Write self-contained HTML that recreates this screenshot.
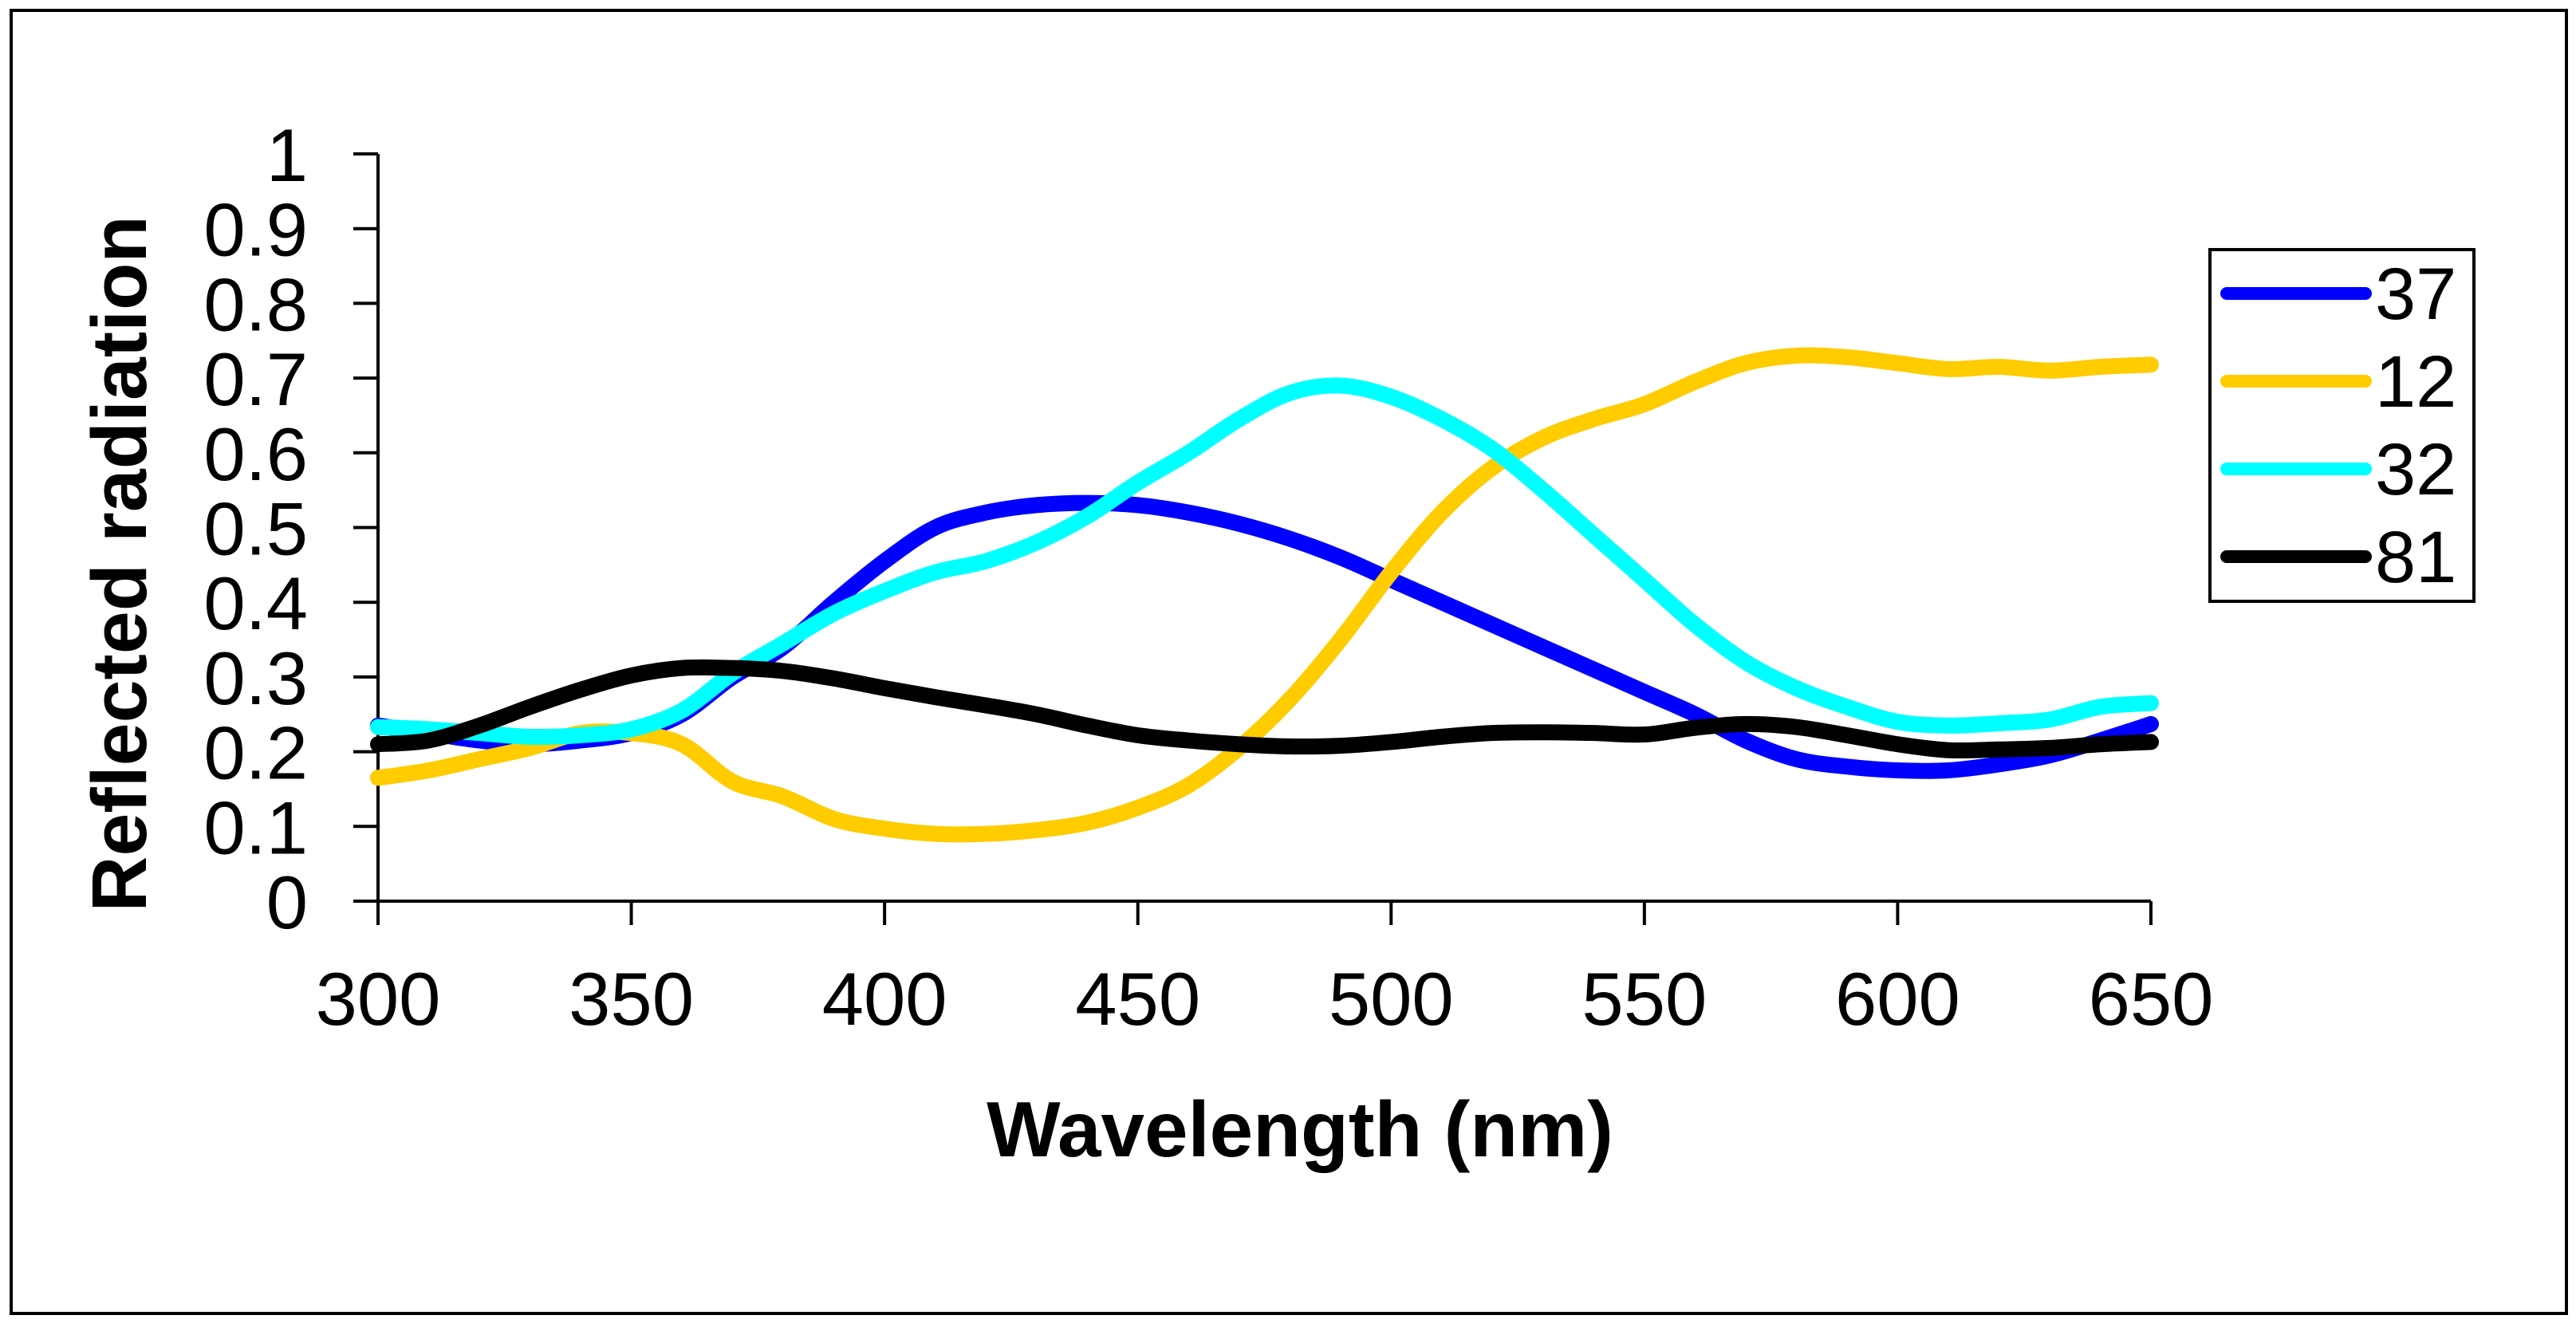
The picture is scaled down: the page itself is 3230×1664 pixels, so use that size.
<!DOCTYPE html>
<html><head><meta charset="utf-8"><style>
html,body{margin:0;padding:0;background:#fff;}
svg{display:block;font-family:"Liberation Sans",Arial,sans-serif;}
</style></head><body>
<svg id="chart" width="3230" height="1664" viewBox="0 0 3230 1664" xmlns="http://www.w3.org/2000/svg">
<rect x="14" y="13" width="3204" height="1634" fill="#fff" stroke="#000" stroke-width="4"/>
<g id="axes"></g>
<g id="series"></g>
<text x="1630" y="1450" font-size="98" font-weight="bold" text-anchor="middle">Wavelength (nm)</text>
<text transform="translate(183,707) rotate(-90)" font-size="97" font-weight="bold" text-anchor="middle">Reflected radiation</text>
<g id="legend">
<rect x="2771" y="313" width="331" height="441" fill="#fff" stroke="#000" stroke-width="4"/>
</g>
</svg>
<script>
const wavelengths = [300,310,320,330,340,350,360,370,380,390,400,410,420,430,440,450,460,470,480,490,500,510,520,530,540,550,560,570,580,590,600,610,620,630,640,650];
const s37 = [0.235,0.225,0.215,0.21,0.215,0.225,0.25,0.3,0.34,0.40,0.455,0.50,0.52,0.53,0.533,0.53,0.52,0.505,0.485,0.46,0.43,0.40,0.37,0.34,0.31,0.28,0.25,0.215,0.19,0.18,0.175,0.175,0.183,0.195,0.215,0.237];
const s12 = [0.165,0.175,0.19,0.205,0.225,0.225,0.21,0.16,0.14,0.11,0.097,0.09,0.09,0.095,0.105,0.125,0.155,0.205,0.27,0.35,0.44,0.52,0.58,0.62,0.645,0.665,0.695,0.72,0.73,0.728,0.72,0.712,0.715,0.71,0.715,0.718];
const s32 = [0.233,0.23,0.225,0.22,0.222,0.23,0.255,0.305,0.345,0.385,0.415,0.44,0.455,0.48,0.515,0.56,0.6,0.645,0.68,0.69,0.675,0.645,0.605,0.55,0.49,0.43,0.37,0.32,0.285,0.26,0.24,0.235,0.238,0.243,0.26,0.265];
const s81 = [0.21,0.215,0.235,0.26,0.283,0.302,0.312,0.312,0.308,0.298,0.285,0.273,0.262,0.25,0.235,0.222,0.215,0.21,0.207,0.208,0.213,0.22,0.225,0.226,0.225,0.223,0.232,0.237,0.233,0.222,0.21,0.202,0.203,0.205,0.21,0.213];
const seriesNames = ["37","12","32","81"];
const seriesColors = ["#0000ff","#ffcc00","#00ffff","#000000"];
const xTicks = [300,350,400,450,500,550,600,650];
const yTicks = [0,0.1,0.2,0.3,0.4,0.5,0.6,0.7,0.8,0.9,1];
const yTickLabels = ["0","0.1","0.2","0.3","0.4","0.5","0.6","0.7","0.8","0.9","1"];

const NS="http://www.w3.org/2000/svg";
const X0=474,X1=2697,Y0=1130,Y1=193;
function xs(v){return X0+(v-300)/(650-300)*(X1-X0);}
function ys(v){return Y0-(v-0)/(1-0)*(Y0-Y1);}
function mk(tag,attrs,parent){const e=document.createElementNS(NS,tag);for(const k in attrs)e.setAttribute(k,attrs[k]);parent.appendChild(e);return e;}
const axes=document.getElementById('axes');
let a=mk('line',{x1:X0,y1:Y0,x2:X0,y2:Y1,stroke:'#000','stroke-width':4},axes);


a=mk('line',{x1:X0,y1:Y0,x2:X1,y2:Y0,stroke:'#000','stroke-width':4},axes);


yTicks.forEach((t,i)=>{
  const y=ys(t);
  const l=mk('line',{x1:443,y1:y,x2:X0,y2:y,stroke:'#000','stroke-width':4},axes);
  
  
  const tx=mk('text',{x:386,y:y+34,'font-size':94,'text-anchor':'end'},axes);
  tx.textContent=yTickLabels[i];
  
  
});
xTicks.forEach(t=>{
  const x=xs(t);
  const l=mk('line',{x1:x,y1:Y0,x2:x,y2:Y0+30,stroke:'#000','stroke-width':4},axes);
  
  
  const tx=mk('text',{x:x,y:1285,'font-size':94,'text-anchor':'middle'},axes);
  tx.textContent=String(t);
  
  
});
function smooth(pts){
  let d='M'+pts[0][0]+','+pts[0][1];
  for(let i=0;i<pts.length-1;i++){
    const p0=pts[Math.max(0,i-1)],p1=pts[i],p2=pts[i+1],p3=pts[Math.min(pts.length-1,i+2)];
    const c1x=p1[0]+(p2[0]-p0[0])/6,c1y=p1[1]+(p2[1]-p0[1])/6;
    const c2x=p2[0]-(p3[0]-p1[0])/6,c2y=p2[1]-(p3[1]-p1[1])/6;
    d+=' C'+c1x+','+c1y+' '+c2x+','+c2y+' '+p2[0]+','+p2[1];
  }
  return d;
}
const sg=document.getElementById('series');
const allSeries=[s37,s12,s32,s81];
allSeries.forEach((s,k)=>{
  const pts=s.map((v,i)=>[xs(wavelengths[i]),ys(v)]);
  const p=mk('path',{d:smooth(pts),fill:'none',stroke:seriesColors[k],'stroke-width':20,'stroke-linecap':'round','stroke-linejoin':'round'},sg);
  
  
});
const lg=document.getElementById('legend');
seriesNames.forEach((n,k)=>{
  const y=368+k*110;
  const l=mk('line',{x1:2792,y1:y,x2:2966,y2:y,stroke:seriesColors[k],'stroke-width':16,'stroke-linecap':'round'},lg);
  
  
  const t=mk('text',{x:2978,y:y+32,'font-size':92},lg);
  t.textContent=n;
  
  
});
</script>
</body></html>
